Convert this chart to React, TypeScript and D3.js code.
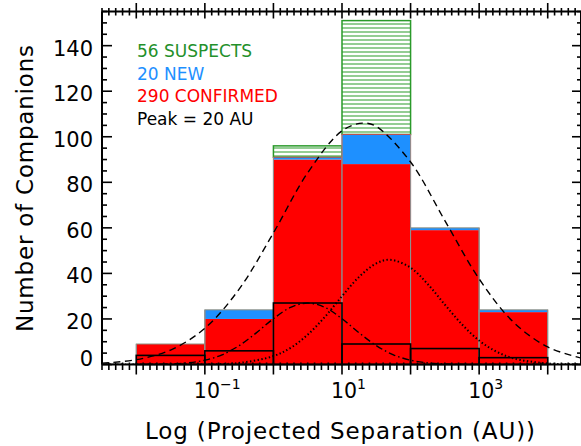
import React from "react";
import * as d3 from "d3";

// ---- data ----
const binEdges = [-2, -1, 0, 1, 2, 3, 4]; // log10(AU)
const confirmed = [9, 20, 90, 88, 59, 23];
const newComps = [0, 4, 1, 13, 1, 1];
const suspects = [0, 0, 5, 50, 0, 0];
const outlined = [4, 6, 27, 9, 7, 3];

const dashedX = [-2.5, -2, -1.5, -1, -0.5, 0, 0.5, 1, 1.3, 1.5, 2, 2.5, 3, 3.5, 4, 4.5];
const dashedY = [0.59, 2.12, 6.35, 15.9, 33.1, 57.8, 84.2, 102.6, 106, 104.5, 88.9, 63.2, 37.6, 18.6, 7.7, 2.7];

const dottedX = [-2.5, -2, -1.5, -1, -0.5, 0, 0.25, 0.5, 0.75, 1, 1.25, 1.5, 1.7, 2, 2.25, 2.5, 2.75, 3, 3.25, 3.5, 4, 4.5];
const dottedY = [0, 0, 0.01, 0.08, 0.67, 3.7, 7.3, 13.1, 20.9, 30.0, 38.5, 44.4, 46, 42.5, 35.3, 26.3, 17.6, 10.5, 5.7, 2.7, 0.46, 0.05];

const dashDotX = [-2.5, -2, -1.5, -1.25, -1, -0.75, -0.5, -0.25, 0, 0.25, 0.5, 0.75, 1, 1.25, 1.5, 1.75, 2, 2.25, 2.5, 3, 3.5, 4, 4.5];
const dashDotY = [0, 0.02, 0.24, 0.72, 1.89, 4.25, 8.3, 13.9, 20.1, 25.1, 27, 25.1, 20.1, 13.9, 8.3, 4.25, 1.89, 0.72, 0.24, 0.02, 0, 0, 0];

const yTickValues = [0, 20, 40, 60, 80, 100, 120, 140];
const xMajorTicks = [-2, -1, 0, 1, 2, 3, 4];
const xLabelTicks = [-1, 1, 3];

const legendItems = [
  { text: "56 SUSPECTS", color: "#23902a" },
  { text: "20 NEW", color: "#1e90ff" },
  { text: "290 CONFIRMED", color: "#ff0000" },
  { text: "Peak = 20 AU", color: "#000000" },
];

const W = 581;
const H = 446;
const FONT = "'DejaVu Sans', sans-serif";

export default function App() {
  const left = 102, right = 582, top = 11.5, bottom = 364.5;
  const x = d3.scaleLinear().domain([-2.5, 4.5]).range([left, right]);
  const y = d3.scaleLinear().domain([0, 155]).range([bottom, top]);

  const bins = confirmed.map((c, i) => ({
    x0: binEdges[i],
    x1: binEdges[i + 1],
    red: c,
    blue: newComps[i],
    green: suspects[i],
    outline: outlined[i],
  }));

  const line = (xs: number[], ys: number[]) =>
    d3
      .line<number>()
      .x((_, i) => x(xs[i]))
      .y((_, i) => y(ys[i]))
      .curve(d3.curveCatmullRom.alpha(0.5))(xs.map((v) => v)) || "";

  const xMinor = d3.range(-25, 46).map((k) => k / 10).filter((v) => Math.abs(v - Math.round(v)) > 1e-6);
  const yMinor = d3.range(0, 156, 5).filter((v) => v % 20 !== 0);

  return (
    <svg width={W} height={H} style={{ position: "absolute", left: 0, top: 0, background: "#fff" }} fontFamily={FONT}>
      <defs>
        <pattern id="hatch" patternUnits="userSpaceOnUse" width={10} height={4} y={top}>
          <rect x={0} y={0} width={10} height={4} fill="#fff" />
          <line x1={0} x2={10} y1={0.5} y2={0.5} stroke="#2a9a2a" strokeWidth={1} />
        </pattern>
        <clipPath id="plotClip">
          <rect x={left} y={top} width={right - left} height={bottom - top} />
        </clipPath>
      </defs>
      <rect x={0} y={0} width={W} height={H} fill="#fff" />

      {/* bars */}
      {bins.map((b, i) => {
        const xa = x(b.x0), xb = x(b.x1);
        const redTop = y(b.red);
        const blueTop = y(b.red + b.blue);
        const greenTop = y(b.red + b.blue + b.green);
        return (
          <g key={i}>
            {b.green > 0 && (
              <rect x={xa} y={greenTop} width={xb - xa} height={blueTop - greenTop} fill="url(#hatch)" stroke="#2a9a2a" strokeWidth={1.5} />
            )}
            <rect x={xa} y={redTop} width={xb - xa} height={bottom - redTop} fill="#ff0000" />
            {b.blue > 0 && <rect x={xa} y={blueTop} width={xb - xa} height={redTop - blueTop} fill="#1e90ff" />}
            <rect x={xa} y={blueTop} width={xb - xa} height={bottom - blueTop} fill="none" stroke={b.green > 0 ? "#c05050" : "#8f8f80"} strokeWidth={1} />
            <line x1={xa} x2={xa} y1={blueTop} y2={bottom} stroke="#8f8f8f" strokeWidth={1} />
            <line x1={xb} x2={xb} y1={blueTop} y2={bottom} stroke="#8f8f8f" strokeWidth={1} />
          </g>
        );
      })}

      {/* outline histogram */}
      {bins.map((b, i) => (
        <rect key={"o" + i} x={x(b.x0)} y={y(b.outline)} width={x(b.x1) - x(b.x0)} height={bottom - y(b.outline)} fill="none" stroke="#000" strokeWidth={1.6} />
      ))}

      {/* curves */}
      <g clipPath="url(#plotClip)" fill="none" stroke="#000">
        <path d={line(dashedX, dashedY)} strokeWidth={1.4} strokeDasharray="7 4.5" />
        <path d={line(dottedX, dottedY)} strokeWidth={2} strokeDasharray="1.4 2.4" />
        <path d={line(dashDotX, dashDotY)} strokeWidth={1.4} strokeDasharray="7 3 1.5 3" />
      </g>

      {/* legend */}
      {legendItems.map((it, i) => (
        <text key={it.text} x={137} y={57.3 + i * 22.4} fontSize={17} fill={it.color}>
          {it.text}
        </text>
      ))}

      {/* frame */}
      <g stroke="#000" strokeWidth={2} fill="none">
        <line x1={left} x2={right} y1={top} y2={top} />
        <line x1={left} x2={right} y1={bottom} y2={bottom} />
        <line x1={left} x2={left} y1={top} y2={bottom} />
        <line x1={right - 1} x2={right - 1} y1={top} y2={bottom} />
      </g>

      {/* x ticks */}
      <g stroke="#000" strokeWidth={1.6}>
        {xMajorTicks.map((v) => (
          <g key={"xm" + v}>
            <line x1={x(v)} x2={x(v)} y1={bottom - 2} y2={bottom + 10} />
            <line x1={x(v)} x2={x(v)} y1={top - 8.5} y2={top + 7} />
          </g>
        ))}
        {xMinor.map((v) => (
          <g key={"xn" + v}>
            <line x1={x(v)} x2={x(v)} y1={bottom - 2} y2={bottom + 5.5} />
            <line x1={x(v)} x2={x(v)} y1={top - 3.5} y2={top + 4} />
          </g>
        ))}
      </g>

      {/* y ticks */}
      <g stroke="#000" strokeWidth={1.6}>
        {yTickValues.map((v) => (
          <g key={"ym" + v}>
            <line x1={left} x2={left + 10} y1={y(v)} y2={y(v)} />
            <line x1={right - 10} x2={right} y1={y(v)} y2={y(v)} />
          </g>
        ))}
        {yMinor.map((v) => (
          <g key={"yn" + v}>
            <line x1={left} x2={left + 5} y1={y(v)} y2={y(v)} />
            <line x1={right - 5} x2={right} y1={y(v)} y2={y(v)} />
          </g>
        ))}
      </g>

      {/* y tick labels */}
      {yTickValues.map((v) => (
        <text key={"yl" + v} x={93} y={y(v) + (v === 0 ? -6 : 3)} fontSize={21} textAnchor="end" dominantBaseline="central" fill="#000">
          {v}
        </text>
      ))}

      {/* x tick labels */}
      {xLabelTicks.map((v) => (
        <text key={"xl" + v} x={x(v) - 11} y={398.3} fontSize={20.5} fill="#000">
          10
          <tspan fontSize={14} dy={-9}>
            {v < 0 ? "\u2212" + Math.abs(v) : String(v)}
          </tspan>
        </text>
      ))}

      {/* axis titles */}
      <text x={340} y={438.5} fontSize={23} textAnchor="middle" textLength={390} lengthAdjust="spacing" fill="#000">
        Log (Projected Separation (AU))
      </text>
      <text transform="translate(32.5,188.5) rotate(-90)" fontSize={23} textAnchor="middle" textLength={287} lengthAdjust="spacing" fill="#000">
        Number of Companions
      </text>
    </svg>
  );
}
